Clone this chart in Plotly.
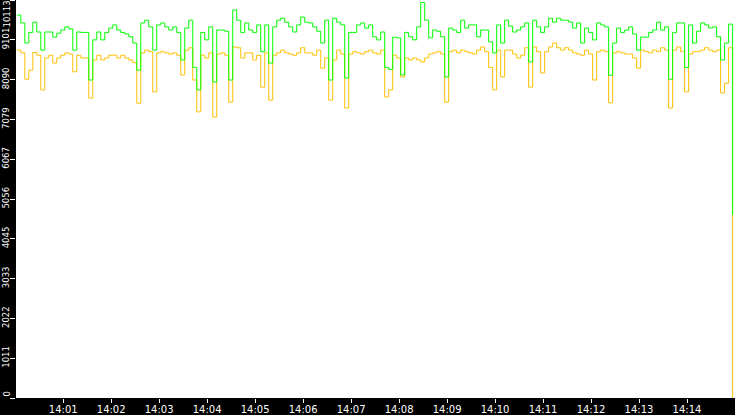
"""Two-series step chart, 14:00-14:15, on a black frame."""

import pandas as pd
import plotly.graph_objects as go

START = "2024-01-01 14:00:02"
STEP_SECONDS = 5

# sampled every 5 seconds
green_values = [
    9730, 9530, 9020, 9290, 9550, 9300, 8840, 9300, 9300, 9170,
    9270, 9350, 9430, 9380, 8840, 9300, 9290, 9290, 8080, 9100,
    9300, 9100, 9290, 9400, 9480, 9350, 9290, 9250, 9180, 9020,
    8330, 9530, 9600, 9430, 8840, 9480, 9530, 9430, 9350, 9430,
    9290, 8590, 9400, 9600, 8400, 7830, 9290, 9100, 9430, 8030,
    9350, 9350, 9320, 8080, 9860, 9600, 9290, 9530, 9350, 9290,
    9480, 8800, 9480, 8510, 9430, 9600, 9650, 9550, 9430, 9300,
    9480, 9680, 9550, 9530, 9430, 9320, 9020, 9600, 8080, 9650,
    9550, 9480, 8130, 9290, 9290, 9480, 9530, 9400, 9480, 9180,
    9100, 9300, 8400, 8350, 9170, 9150, 8210, 9290, 9180, 9100,
    9430, 10050, 9600, 9150, 9350, 9320, 9180, 8160, 9400, 9350,
    9290, 9600, 9400, 9480, 9480, 9180, 9350, 9350, 9050, 8770,
    9480, 9020, 9600, 9450, 9300, 9350, 9430, 9530, 8540, 9600,
    9430, 9290, 9430, 9650, 9550, 9650, 9600, 9600, 9550, 9400,
    9530, 9020, 9400, 9290, 9100, 9530, 9480, 9430, 8200, 9020,
    9400, 9290, 9350, 9430, 9250, 8840, 9170, 9170, 9290, 9350,
    9550, 9350, 9430, 8100, 9290, 9530, 9530, 8400, 9480, 9020,
    9320, 9530, 9480, 9400, 9430, 9180, 8590, 9020, 9500, 4650,
]

orange_values = [
    8840, 8770, 8100, 8330, 8780, 8710, 7830, 8640, 8710, 8510,
    8640, 8710, 8770, 8740, 8290, 8710, 8640, 8640, 7620, 8590,
    8710, 8590, 8640, 8710, 8710, 8640, 8710, 8640, 8590, 8520,
    7490, 8770, 8840, 8800, 7780, 8770, 8800, 8770, 8740, 8770,
    8710, 8210, 8840, 8900, 8080, 7270, 8710, 8640, 8770, 7140,
    8740, 8770, 8710, 7520, 8920, 8900, 8640, 8770, 8770, 8590,
    8710, 7900, 8770, 7570, 8710, 8770, 8840, 8770, 8740, 8710,
    8770, 8900, 8770, 8770, 8710, 8840, 8380, 8640, 7570, 8590,
    8840, 8740, 7370, 8740, 8800, 8770, 8740, 8800, 8840, 8770,
    8740, 8840, 7650, 7830, 8710, 8640, 8160, 8640, 8590, 8640,
    8590, 8540, 8640, 8740, 8770, 8800, 8740, 7520, 8800, 8840,
    8770, 8840, 8800, 8770, 8740, 8840, 8920, 8800, 8400, 7830,
    8840, 8160, 8840, 8840, 8740, 8640, 8710, 8900, 7900, 8920,
    8800, 8260, 8800, 8920, 9020, 8900, 8840, 8900, 8840, 8770,
    8740, 8710, 8840, 8740, 8080, 8800, 8840, 8800, 7500, 8770,
    8800, 8770, 8740, 8740, 8640, 8380, 8840, 8800, 8770, 8840,
    8800, 8900, 8840, 7370, 8840, 8920, 8800, 7780, 8740, 8800,
    8800, 8840, 8900, 8840, 8800, 8840, 7750, 8000, 8900, 0,
]

y_max = 10113.2
y_tick_labels = ["0", "1011", "2022", "3033", "4045", "5056",
                 "6067", "7079", "8090", "9101", "10113"]

times = pd.date_range(START, periods=len(green_values), freq=f"{STEP_SECONDS}s")

fig = go.Figure()
# orange first so the green is drawn on top
fig.add_trace(
    go.Scatter(
        x=times, y=orange_values, mode="lines",
        line={"color": "#ffc000", "width": 1, "shape": "hv"},
    )
)
fig.add_trace(
    go.Scatter(
        x=times, y=green_values, mode="lines",
        line={"color": "#00ff00", "width": 1, "shape": "hv"},
    )
)

x_font = {"family": "DejaVu Sans", "size": 10, "color": "white"}
y_font = {"family": "DejaVu Sans", "size": 8.5, "color": "white"}

fig.update_layout(
    width=735,
    height=415,
    margin={"l": 16, "r": 0, "t": 0, "b": 17},
    paper_bgcolor="black",
    plot_bgcolor="white",
    showlegend=False,
)
fig.update_xaxes(
    range=[pd.Timestamp("2024-01-01 14:00:01"), pd.Timestamp("2024-01-01 14:15:00")],
    tickformat="%H:%M",
    dtick=60000,
    ticks="outside",
    ticklen=4,
    tickcolor="white",
    tickfont=x_font,
    ticklabelstandoff=-2,
    showgrid=False,
    zeroline=False,
    showline=False,
    automargin=False,
)

# the first and last labels are kept inside the frame as annotations,
# the axis only draws the ones in between
inner_text = [""] + y_tick_labels[1:-1] + [""]
fig.update_yaxes(
    range=[0, y_max],
    tickvals=[y_max * k / 10 for k in range(len(y_tick_labels))],
    ticktext=inner_text,
    tickangle=-90,
    ticks="outside",
    ticklen=5,
    tickcolor="white",
    tickfont=y_font,
    ticklabelstandoff=-2,
    showgrid=False,
    zeroline=False,
    showline=False,
    automargin=False,
)
for label, y_pos, anchor in [(y_tick_labels[-1], y_max, "top"), (y_tick_labels[0], 0, "bottom")]:
    fig.add_annotation(
        text=label,
        xref="paper", x=0, xanchor="center", xshift=-10,
        yref="y", y=y_pos, yanchor=anchor,
        textangle=-90,
        showarrow=False,
        borderpad=0,
        font=y_font,
    )

# the page's default body margin would shift the chart by 8px
fig.write_html(
    "out.html",
    config={"displayModeBar": False},
    post_script="document.body.style.margin = '0';",
)
